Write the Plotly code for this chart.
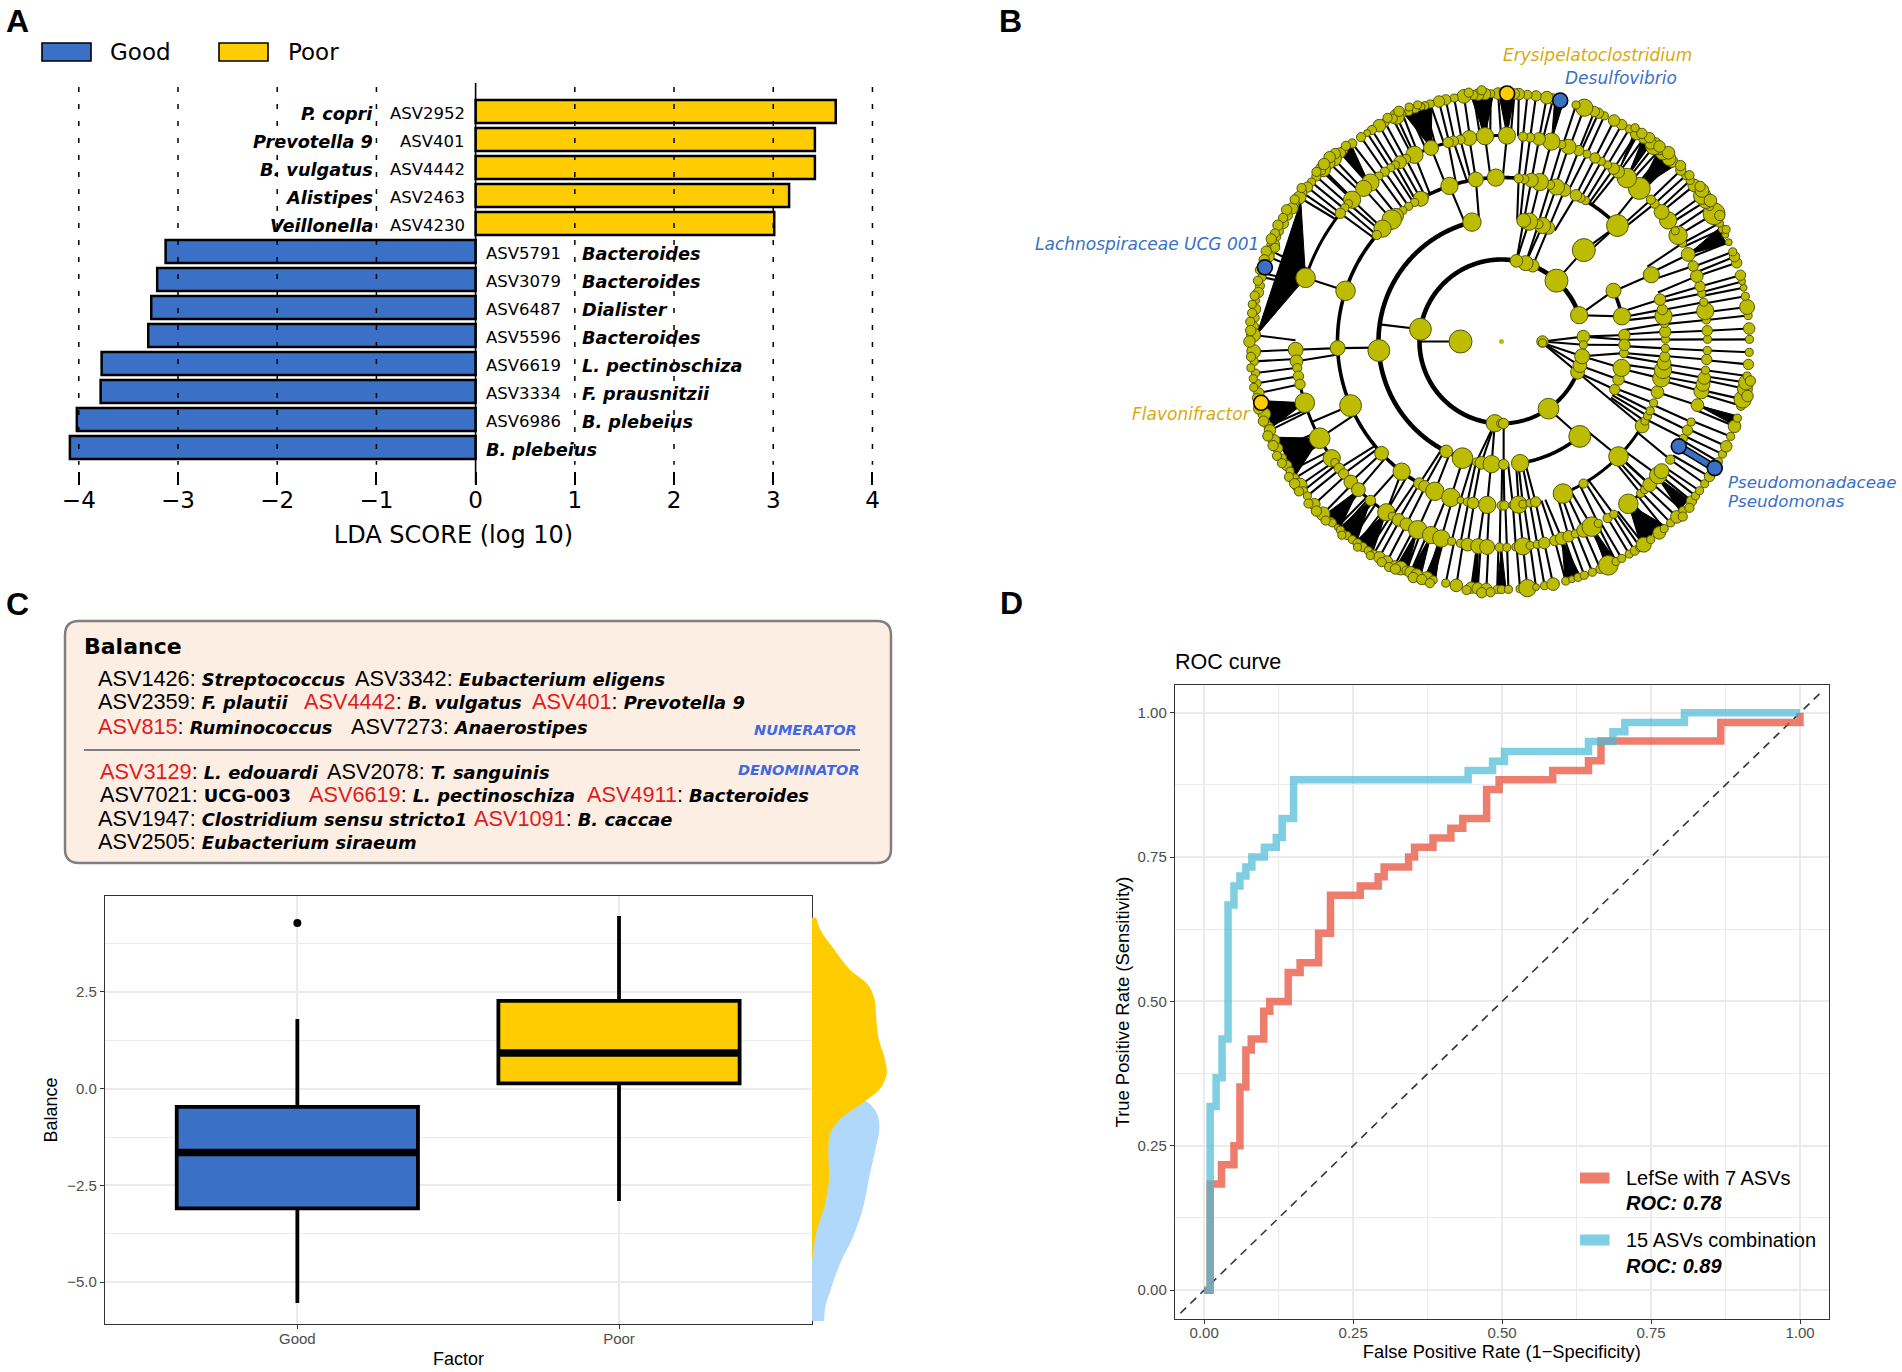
import numpy as np
import plotly.graph_objects as go

W, H = 1902, 1372
BLUE = "#3A70C6"
GOLD = "#FFCC00"
OLIVE = "#BCBC00"
OLIVE_EDGE = "#55550A"

# ---------- Panel A ----------
lda_asv = ["ASV2952", "ASV401", "ASV4442", "ASV2463", "ASV4230", "ASV5791", "ASV3079",
           "ASV6487", "ASV5596", "ASV6619", "ASV3334", "ASV6986", ""]
lda_taxa = ["P. copri", "Prevotella 9", "B. vulgatus", "Alistipes", "Veillonella", "Bacteroides",
            "Bacteroides", "Dialister", "Bacteroides", "L. pectinoschiza", "F. prausnitzii",
            "B. plebeius", "B. plebeius"]
lda_score = [3.63, 3.42, 3.42, 3.16, 3.01, -3.125, -3.21, -3.27, -3.30, -3.77, -3.78, -4.02, -4.09]

# ---------- Panel B : cladogram (theta in degrees, marker diameter) ----------
ring6 = [(0.5,7),(3,10),(6,7),(8,13),(10.5,7),(12.5,6),(14,6),(15.5,9),(18.5,9),(20,9),(21.2,7),(23.6,6),
 (25.5,6),(27,7),(28.5,7),(31,19),(33,7),(34.5,13),(36,15),(39,11),(40.5,7),(42,7),(43.7,9),(46.5,10),
 (47.5,12),(49.5,12),(50.5,8),(52,15),(53,10),(55,9),(57,11),(59,7),(61,9),(63,10),(65.5,7),(67,9),(68,9),
 (70.5,15),(72.5,7),(78,9),(79.5,11),(82,9),(84,8),(86,10),(87,9),
 (90.8,10),(92.5,7),(93.8,10),(95.4,10),(96.5,8),(98.7,12),(101,7),(103,9),(104.6,10),(106.7,7),(108,7),
 (108.8,6),(110.4,7),(112,7),(113.5,6),(115,13),(116,8),(118,7),(119.5,11),(121.5,8),(122.8,6),(124.5,8),
 (127,8),(129.5,7),(130.5,9),(132.5,13),(134,10),(136,13),(136.5,7),(138.3,8),(140,7),(141.5,9),(143.2,7),
 (144.5,11),(146,6),(147.5,10),(149.5,8),(151.6,9),(153.6,7),(155,7),(157,11),(158.5,9),(160,10),(164,8),
 (165,7),(167,8),(168.6,9),(170.5,5),(172.5,9),(174.5,8),(176.5,8),(178.5,12),
 (182.3,12),(184.6,7),(187.3,7),(189.7,7),(192,9),(197,11),(200,8),(201,10),(203.5,10),(205.5,9),(208,7),
 (210,9),(211.5,7),(213.5,8),(215.5,13),(217,7),(218.5,7),(221,10),(224,12),(226.5,7),(227,7),(228.5,5),
 (229.5,7),(231.5,7),(233,7),(234.5,8),(236,8),(237.5,7),(239,7),(240.5,10),(242.5,10),(244.5,8),(246,12),
 (247.5,8),(248.5,10),(250,10),(252.5,11),(254,7),(257,7),(259.5,11),(263,10),(264.5,10),(266.5,10),(269,7),
 (270,7),(271.6,7),(274.3,7),(276,15),(278,6),(280,7),(282,11),(285,7),(286.5,6),(288,7),(289.5,7),(291.5,7),
 (293.5,8),(295.5,17),(297.5,7),(299,7),(301,7),(302.5,8),(304,8),(305,13),(307,7),(309.5,11),(311,7),(313,7),
 (315,11),(317,7),(320,9),(321.5,7),(323,7),(325,7),(327,9),(331,7),(333,7),(335,10),(337.5,7),(340,11),
 (342,7),(345,8),(346.5,15),(349,13),(350.5,13),(352,7),(354.7,9),(357.5,7)]
# overlapping leaves in the crowded parts of the outer band: (theta, radius, diameter)
ring6_crowded = [(26.5,251,7),(30,252,9),(34,252,11),(37,251,12),(38,252,9),(41.5,251,8),(44.5,251,9),(48.5,252,11),
 (51,251,10),(54,252,9),(56,251,9),(58,252,7),(89.5,250,8),(94.5,252,8),
 (97.5,251,8),(109.5,251,7),(111.5,252,7),(114,252,9),(117,251,8),(128.5,250,8),(131.5,251,9),(133,252,10),(135,251,10),
 (137.5,251,8),(142.5,252,8),(145.5,251,8),(148.5,252,9),(150.5,251,8),(152.5,252,9),(154.5,251,8),(156,252,9),
 (157.5,245,8),(159,252,9),(161,251,9),(163.5,252,8),(166,251,8),(169.5,251,8),(171.5,252,7),(173.5,251,8),(175.5,252,8),
 (177.5,251,9),(180,252,10),(183.5,251,8),(186,252,7),(188.5,251,7),(190.5,252,7),(193,251,8),(195.5,252,9),(198.5,251,9),
 (202,252,9),(204.5,251,9),(207,252,8),(209,251,8),(212.5,252,8),(214.5,251,9),(216.5,252,8),(220,252,8),(222.5,251,9),
 (225.5,251,8),(230.5,251,7),(235,251,7),(238.5,251,7),(241.5,251,8),(243.5,252,8),(245,251,9),(249.5,252,9),(251.5,251,9),
 (253.5,252,8),(262,251,8),(265.5,252,9),(267.5,251,8),(316,252,8),(318.5,251,8),(347.5,252,10),(351,252,9)]
ring5 = [(0.6,7),(3,9),(6,7),(8.5,15),(11,7),(13.5,7),(15.5,9),(18.5,11),(21.5,9),(25,12),(28.5,7),(31,16),
 (32.5,7),(36,15),(39,13),(42,8),(43.5,8),(48,19),(52.5,17),(55.5,11),(57,10),(59,7),(61,7),(63,9),(65.5,7),
 (68,9),(71,13),(73,7),(76,15),(79.5,11),(82,8),(84,8),(88.5,15),
 (94.6,15),(99,13),(101.5,8),(103.5,9),(105,9),(110,13),(115,15),(117.6,8),(119.5,11),(121,7),(122.5,7),
 (124.5,8),(126.5,7),(129.5,15),(132,14),(136.5,15),(138,7),(139.5,7),(141.5,9),(162,17),
 (182.3,13),(185.5,11),(187.4,8),(189.7,9),(192,9),(197.3,17),(208,18),(214.5,15),(216,7),(218,9),(220,9),
 (223,12),(226,12),(230.5,9),(236,15),(238,7),(240,11),(242.5,11),(246,16),(250,15),(253,15),(256,7),(258.5,7),
 (260.5,11),(263.5,13),(266,13),(269.5,8),(271.5,7),(274,7),(276,15),(278,7),(280,7),(282,10),(285,9),(287,11),
 (289,10),(291,7),(293.5,12),(296,17),(298,7),(301,8),(303,7),(308,17),(312.5,7),(314,7),(316,12),(319.5,15),
 (321,13),(325,8),(332,7),(334.5,9),(337,7),(342,11),(346,13),(348,12),(349.8,11),(352,7),(355,9),(357.5,7)]
ring4 = [(0.8,7),(3.4,10),(6.3,7),(8.9,15),(11.2,9),(14.8,10),(24,14),(45,19),(59.2,7),(61.2,8),(63,10),
 (67.4,11),(70.4,14),(72.8,8),(76.5,15),(79.5,12),(82,8),(84,8),(92,15),(99,13),(108.5,15),(118,7),(119.5,13),
 (122,7),(124.5,7),(127,7),(130,13),(132,17),(136.5,15),(139.5,8),(162,17),(182.3,13),(203,19),(223,12),
 (232.5,15),(240,10),(242,10),(246,16),(252,16),(255.5,6),(258,7),(260,10),(265,15),(270,8),(271,8),(274,7),
 (276,15),(277.5,7),(280,7),(282,9),(292,17),(300,8),(315.5,17),(329,12),(331,7),(333,7),(335,7),(338,7),
 (342,11),(347,15),(350,15),(352.4,12),(354.7,9),(357.6,7)]
ring3 = [(0.8,7),(3,10),(11.8,15),(24.4,13),(48,20),(67.5,11),(70.5,14),(72.5,8),(77,15),(79.6,12),(103.9,16),
 (184.2,19),(243.3,11),(251.5,18),(258.2,7),(260.6,11),(265.4,15),(271,9),(278.7,15),(309.5,19),(337,9),
 (342,10),(347.6,15),(354.6,8),(358.4,10)]
ring2 = [(3.4,11),(18.7,15),(47.9,20),(67.6,11),(72.9,13),(79.5,11),(171.4,19),(265.3,15),(269.5,7),(271.5,9),
 (305,18),(338,12),(342.9,12),(349.6,13),(357.7,7)]
ring1 = [(0,10),(358,7),(180,20)]

# parent -> child pairs that do not follow the nearest-node reading: (inner r, theta, outer r, theta)
long_edges = [(41,180,82,180),(41,0,82,3.4),(41,0,82,357.7),(41,358,82,349.6),(41,358,82,342.9),(41,358,82,338),
 (82,3.4,123,3),(82,3.4,123,0.8),(82,357.7,123,358.4),(82,349.6,123,354.6),(82,349.6,123,347.6),(82,342.9,123,342),
 (82,338,123,337),(82,18.7,123,24.4),(82,18.7,123,11.8),(82,47.9,123,48),(82,67.6,123,67.5),(82,72.9,123,72.5),
 (82,72.9,123,70.5),(82,79.5,123,79.6),(82,79.5,123,77),(82,171.4,123,172),(82,265.3,123,265.4),(82,265.3,123,260.6),
 (82,265.3,123,258.2),(82,271.5,123,271),(82,305,123,309.5),(82,338,164,329),(123,48,164,45),
 (164,203,206,203),(164,232.5,206,236),(164,315.5,206,316)]
# thick sibling arcs: (r, theta start, theta end, width)
arcs = [(82,18.7,271.5,4.6),(82,271.5,338,4),(123,103.9,251.5,4.6),(123,278.7,309.5,3.6),(123,11.8,24.4,3.6),
 (164,84,132,3.6),(164,139.5,240,3.6),(164,292,329,3),(164,45,59.2,3.6),(206,89,94.6,3),(206,103.5,115,3),
 (206,141.5,162,3),(206,192,236,3),(206,308,312.5,3)]
# dense outer fans: (parent theta, first child, last child)
fans = [(162,145,178.5),(197.3,194,200.5),(208,203,213),(226,224.5,229),(230.5,229,234),(236,234,238.5),
 (246,245,247.5),(250,248.5,251),(253,252,254.5),(263.5,263,264.5),(270,269,271),(287,285,288.5),(296,295,297.5),
 (308,304.5,311.5),(319,316.5,319.8),(342,340.3,342.5),(25,23.5,27.5),(48,45.5,50.5),(52.5,53,55),(55.5,56.5,57.5),
 (88.5,87,90.5),(76,75.5,77.5),(94.6,92,97),(110,106.5,113),(130,127.5,130.5)]
marked_r = [248, 248, 248, 248, 248, 206]
marked_theta = [88.7, 76.3, 162.6, 194.3, 329.3, 329.4]
marked_colour = [GOLD, BLUE, BLUE, GOLD, BLUE, BLUE]

# ---------- Panel C ----------
box_names = ["Good", "Poor"]
box_q1 = [-3.09, 0.14]
box_median = [-1.65, 0.92]
box_q3 = [-0.47, 2.27]
box_low = [-5.54, -2.9]
box_high = [1.8, 4.46]
outlier_value = [4.28]
poor_density_y = [4.42,4.10,3.59,3.08,2.69,2.31,1.79,1.28,0.77,0.38,0,-0.38,-0.77,-1.15,-1.67,-2.31,-2.95,-3.72,-4.49]
poor_density = [.014,.028,.074,.124,.184,.206,.212,.22,.24,.246,.224,.164,.094,.06,.054,.056,.044,.014,0]
good_density_y = [1.28,0.51,0,-0.32,-0.64,-1.03,-1.54,-2.31,-3.08,-3.85,-4.49,-5.13,-5.64,-6.0]
good_density = [0,.02,.07,.178,.214,.222,.21,.188,.168,.134,.094,.064,.044,.04]
# (text x px, ASV, highlighted, taxon)
balance_rows = [
 (678, [(96,"ASV1426",0,"Streptococcus"),(353,"ASV3342",0,"Eubacterium eligens")]),
 (702, [(96,"ASV2359",0,"F. plautii"),(302,"ASV4442",1,"B. vulgatus"),(530,"ASV401",1,"Prevotella 9")]),
 (726, [(96,"ASV815",1,"Ruminococcus"),(348.5,"ASV7273",0,"Anaerostipes")]),
 (771, [(97.5,"ASV3129",1,"L. edouardi"),(325,"ASV2078",0,"T. sanguinis")]),
 (794, [(97.5,"ASV7021",0,"UCG-003"),(307,"ASV6619",1,"L. pectinoschiza"),(584.5,"ASV4911",1,"Bacteroides")]),
 (818, [(96,"ASV1947",0,"Clostridium sensu stricto1"),(472,"ASV1091",1,"B. caccae")]),
 (842, [(96,"ASV2505",0,"Eubacterium siraeum")]),
]

# ---------- Panel D ----------
lefse_fpr = [0,.01,.029,.05,.06,.07,.079,.10,.11,.141,.161,.192,.212,.262,.292,.302,.343,.353,.384,.414,.434,.474,.495,.585,.645,.666,.867,1.0]
lefse_tpr = [0,.184,.217,.25,.352,.416,.435,.483,.50,.55,.567,.618,.684,.70,.716,.733,.75,.767,.783,.80,.817,.867,.884,.90,.917,.951,.983,1.0]
combo_fpr = [0,.01,.02,.03,.04,.05,.06,.07,.08,.101,.121,.131,.15,.443,.484,.504,.645,.686,.706,.806,1.0]
combo_tpr = [0,.318,.368,.435,.667,.70,.717,.733,.75,.767,.784,.817,.884,.90,.916,.933,.95,.967,.983,1.0,1.0]

# ---------- helpers ----------
def fx(p): return p / W
def fy(p): return 1 - p / H
def dom_x(a, b): return [fx(a), fx(b)]
def dom_y(top, bottom): return [fy(bottom), fy(top)]

annotations, shapes = [], []
def note(x, y, text, size, family="DejaVu Sans", color="black", anchor="left", angle=0):
    annotations.append(dict(x=fx(x), y=fy(y), xref="paper", yref="paper", text=text, showarrow=False,
                            xanchor=anchor, yanchor="middle", textangle=angle,
                            font=dict(size=size, family=family, color=color)))

fig = go.Figure()
LIB = "Liberation Sans"
DJ = "DejaVu Sans"

for x, y, t in [(17, 21, "A"), (1010, 21, "B"), (17, 604, "C"), (1011, 603, "D")]:
    note(x, y, f"<b>{t}</b>", 32, LIB, anchor="center")

# ----- A -----
pos = list(range(len(lda_score)))
fig.add_trace(go.Bar(x=lda_score, y=pos, orientation="h", width=0.82, xaxis="x", yaxis="y",
                     marker=dict(color=[GOLD if v > 0 else BLUE for v in lda_score],
                                 line=dict(color="black", width=2.5))))
fig.update_layout(
    xaxis=dict(domain=dom_x(4.8, 902.2), range=[-4.746, 4.3], anchor="y", tickvals=[-4,-3,-2,-1,0,1,2,3,4],
               showgrid=False, zeroline=False, showline=False, ticks="outside", ticklen=13, tickwidth=1.5,
               tickcolor="black", tickfont=dict(size=23, family=DJ, color="black"), ticklabelstandoff=-5,
               title=dict(text="LDA SCORE (log 10)", font=dict(size=24, family=DJ, color="black"), standoff=14)),
    yaxis=dict(domain=dom_y(83, 471), range=[12.84, -1.02], anchor="x", visible=False),
)
for tick in [-4, -3, -2, -1, 1, 2, 3, 4]:
    shapes.append(dict(type="line", xref="x", yref="y", x0=tick, x1=tick, y0=-0.88, y1=12.62, layer="above",
                       line=dict(color="black", width=1.5, dash="5px,12px")))
shapes.append(dict(type="line", xref="paper", yref="paper", x0=fx(475.6), x1=fx(475.6), y0=fy(83), y1=fy(484),
                   line=dict(color="black", width=1.6), layer="above"))
for i, (asv, tax, v) in enumerate(zip(lda_asv, lda_taxa, lda_score)):
    cfg = dict(yref="y", xref="x", showarrow=False, yanchor="middle")
    if v > 0:
        annotations.append(dict(cfg, y=i + 0.07, x=-0.085, xanchor="right", text=asv, font=dict(size=16.5, family=DJ, color="black")))
        annotations.append(dict(cfg, y=i + 0.08, x=-1.01, xanchor="right", text=f"<b><i>{tax}</i></b>", font=dict(size=17.7, family=DJ, color="black")))
    else:
        if asv:
            annotations.append(dict(cfg, y=i + 0.08, x=0.088, xanchor="left", text=asv, font=dict(size=16.5, family=DJ, color="black")))
        annotations.append(dict(cfg, y=i + 0.1, x=1.056 if asv else 0.088, xanchor="left", text=f"<b><i>{tax}</i></b>", font=dict(size=17.7, family=DJ, color="black")))
for x0, x1, c, tx, t in [(42, 91, BLUE, 108, "Good"), (219, 268, GOLD, 286, "Poor")]:
    shapes.append(dict(type="rect", xref="paper", yref="paper", x0=fx(x0), x1=fx(x1), y0=fy(61), y1=fy(43),
                       fillcolor=c, line=dict(color="black", width=1.6)))
    note(tx, 52, t, 23, DJ)

# ----- B -----
RADIUS = 260
polar_kw = dict(subplot="polar", showlegend=False, hoverinfo="skip")
def nearest_links(children, parents, r0, r1, tol):
    th, rr = [], []
    ptheta = np.array([p[0] for p in parents])
    for t, _ in children:
        d = (ptheta - t + 180) % 360 - 180
        j = int(np.argmin(np.abs(d)))
        if abs(d[j]) <= tol:
            th += [t + 0.3 * d[j], t, None]
            rr += [r0, r1, None]
    return th, rr

for r, a, b, w in arcs:
    t = np.arange(a, b + 0.5, 0.5)
    fig.add_trace(go.Scatterpolar(r=[r] * len(t), theta=t, mode="lines", line=dict(color="black", width=w), **polar_kw))
fth, frr = [], []
for p, a, b in fans:
    fth += [p, a, b, p, None]
    frr += [206, 245, 245, 206, None]
fig.add_trace(go.Scatterpolar(r=frr, theta=fth, mode="lines", fill="toself", fillcolor="black",
                              line=dict(color="black", width=1), **polar_kw))
eth, err = [], []
for r0, t0, r1, t1 in long_edges:
    eth += [t0, t1, None]
    err += [r0, r1, None]
for ch, pa, r0, r1, tol in [(ring6, ring5, 206, 248, 4), (ring5, ring4, 164, 206, 5), (ring4, ring3, 123, 164, 6)]:
    a, b = nearest_links(ch, pa, r0, r1, tol)
    eth += a
    err += b
fig.add_trace(go.Scatterpolar(r=err, theta=eth, mode="lines", line=dict(color="black", width=2.1), **polar_kw))
for w, c in [(8.5, "black"), (5.5, BLUE)]:
    fig.add_trace(go.Scatterpolar(r=marked_r[-2:], theta=marked_theta[-2:], mode="lines", line=dict(color=c, width=w), **polar_kw))
fig.add_trace(go.Scatterpolar(r=[0], theta=[0], mode="markers", marker=dict(size=5, color=OLIVE), **polar_kw))
node_scale = 1.15
for rad, nodes in [(41, ring1), (82, ring2), (123, ring3), (164, ring4), (206, ring5), (248, ring6)]:
    fig.add_trace(go.Scatterpolar(r=[rad] * len(nodes), theta=[n[0] for n in nodes], mode="markers",
                                  marker=dict(size=[n[1] * node_scale for n in nodes], color=OLIVE, opacity=1,
                                              line=dict(color=OLIVE_EDGE, width=1)), **polar_kw))
fig.add_trace(go.Scatterpolar(r=[n[1] for n in ring6_crowded], theta=[n[0] for n in ring6_crowded], mode="markers",
                              marker=dict(size=[n[2] * node_scale for n in ring6_crowded], color=OLIVE, opacity=1,
                                          line=dict(color=OLIVE_EDGE, width=1)), **polar_kw))
fig.add_trace(go.Scatterpolar(r=marked_r, theta=marked_theta, mode="markers",
                              marker=dict(size=15, color=marked_colour, opacity=1, line=dict(color="black", width=1.6)), **polar_kw))
CX, CY = 1501.5, 341.5
fig.update_layout(polar=dict(domain=dict(x=dom_x(CX - RADIUS, CX + RADIUS), y=dom_y(CY - RADIUS, CY + RADIUS)),
                             bgcolor="rgba(0,0,0,0)",
                             radialaxis=dict(range=[0, RADIUS], visible=False),
                             angularaxis=dict(visible=False)))
GOLDTXT = "#D9A90F"
note(1501, 55, "<i>Erysipelatoclostridium</i>", 17, DJ, GOLDTXT)
note(1563, 78, "<i>Desulfovibrio</i>", 17, DJ, BLUE)
note(1033, 244, "<i>Lachnospiraceae UCG 001</i>", 17, DJ, BLUE)
note(1130, 414, "<i>Flavonifractor</i>", 17, DJ, GOLDTXT)
note(1726, 482, "<i>Pseudomonadaceae</i>", 16.7, DJ, BLUE)
note(1726, 501, "<i>Pseudomonas</i>", 16.7, DJ, BLUE)

# ----- C -----
x0, x1, y0, y1, rd = fx(65), fx(891), fy(621), fy(863), 14
rx, ry = rd / W, rd / H
shapes.append(dict(type="path", xref="paper", yref="paper", fillcolor="#FDEEE3", line=dict(color="#7F7F7F", width=2.5), layer="below",
    path=f"M {x0+rx},{y0} L {x1-rx},{y0} Q {x1},{y0} {x1},{y0-ry} L {x1},{y1+ry} Q {x1},{y1} {x1-rx},{y1} "
         f"L {x0+rx},{y1} Q {x0},{y1} {x0},{y1+ry} L {x0},{y0-ry} Q {x0},{y0} {x0+rx},{y0} Z"))
shapes.append(dict(type="line", xref="paper", yref="paper", x0=fx(84), x1=fx(860), y0=fy(750), y1=fy(750),
                   line=dict(color="#7F7F7F", width=2)))
note(82, 646, "<b>Balance</b>", 22, DJ)
for y, row in balance_rows:
    for x, asv, hot, tax in row:
        col = "#DD1C1C" if hot else "black"
        inner = "<b>UCG-003</b>" if tax == "UCG-003" else f"<b><i>{tax}</i></b>"
        note(x, y, f'<span style="font-family:Liberation Sans;font-size:21.7px;fill:{col}">{asv}</span>'
                   f'<span style="font-family:Liberation Sans;font-size:21.7px">: </span>{inner}', 17.9, DJ)
note(859, 730, "<b><i>NUMERATOR</i></b>", 14.5, DJ, "#4169E1", "right")
note(862, 770, "<b><i>DENOMINATOR</i></b>", 14.5, DJ, "#4169E1", "right")

for i, c in enumerate([BLUE, GOLD]):
    fig.add_trace(go.Box(x=[i], q1=[box_q1[i]], median=[box_median[i]], q3=[box_q3[i]], lowerfence=[box_low[i]],
                         upperfence=[box_high[i]], width=0.75, whiskerwidth=0, boxpoints=False, fillcolor=c,
                         line=dict(color="black", width=3.8), xaxis="x2", yaxis="y2", hoverinfo="skip"))
    fig.add_trace(go.Scatter(x=[i - 0.375, i + 0.375], y=[box_median[i]] * 2, mode="lines", xaxis="x2", yaxis="y2",
                             line=dict(color="black", width=7.5), hoverinfo="skip"))
fig.add_trace(go.Scatter(x=[0], y=outlier_value, mode="markers", marker=dict(color="black", size=8), xaxis="x2", yaxis="y2"))
GRID = "#EBEBEB"
tick_c = dict(ticks="outside", ticklen=4, tickwidth=1, tickcolor="#333333")
frame = dict(showline=True, mirror=True, linecolor="#333333", linewidth=1.4, zeroline=False, gridcolor=GRID, gridwidth=1.6)
fig.update_layout(
    xaxis2=dict(domain=dom_x(105, 812), range=[-0.598, 1.6], anchor="y2", tickvals=[0, 1], ticktext=box_names,
                tickfont=dict(size=15, family=LIB, color="#4D4D4D"), ticklabelstandoff=-3, **frame, **tick_c,
                title=dict(text="Factor", font=dict(size=18, family=LIB, color="black"), standoff=6)),
    yaxis2=dict(domain=dom_y(896, 1324), range=[-6.08, 4.98], anchor="x2", tickvals=[-5, -2.5, 0, 2.5],
                ticktext=["\u22125.0", "\u22122.5", "0.0", "2.5"], tickfont=dict(size=15, family=LIB, color="#4D4D4D"),
                minor=dict(dtick=1.25, tick0=0, showgrid=True, gridcolor=GRID, gridwidth=1, ticks=""),
                **frame, **tick_c,
                title=dict(text="Balance", font=dict(size=18, family=LIB, color="black"), standoff=4)),
    xaxis3=dict(domain=dom_x(812, 893), range=[0, 0.267], anchor="y3", visible=False),
    yaxis3=dict(domain=dom_y(896, 1324), range=[-6.08, 4.98], anchor="x3", visible=False),
)
fig.add_trace(go.Scatter(x=good_density, y=good_density_y, mode="lines", fill="tozerox", fillcolor="#AFD8FA",
                         line=dict(width=0, color="#AFD8FA", shape="spline", smoothing=1), xaxis="x3", yaxis="y3", hoverinfo="skip"))
fig.add_trace(go.Scatter(x=poor_density, y=poor_density_y, mode="lines", fill="tozerox", fillcolor=GOLD,
                         line=dict(width=0, color=GOLD, shape="spline", smoothing=1), xaxis="x3", yaxis="y3", hoverinfo="skip"))

# ----- D -----
RED_A = "rgba(230,75,53,0.72)"
CYAN_A = "rgba(77,187,213,0.72)"
fig.add_trace(go.Scatter(x=[-0.04, 1.04], y=[-0.04, 1.04], mode="lines", xaxis="x4", yaxis="y4",
                         line=dict(color="#333333", width=1.6, dash="8px,6px"), hoverinfo="skip"))
fig.add_trace(go.Scatter(x=lefse_fpr, y=lefse_tpr, mode="lines", line=dict(color=RED_A, width=7.5, shape="hv"),
                         name="LefSe with 7 ASVs", xaxis="x4", yaxis="y4", hoverinfo="skip"))
fig.add_trace(go.Scatter(x=combo_fpr, y=combo_tpr, mode="lines", line=dict(color=CYAN_A, width=7.5, shape="hv"),
                         name="15 ASVs combination", xaxis="x4", yaxis="y4", hoverinfo="skip"))
roc_ticks = [0, .25, .5, .75, 1]
roc_text = ["0.00", "0.25", "0.50", "0.75", "1.00"]
roc_minor = dict(dtick=.125, tick0=0, showgrid=True, gridcolor=GRID, gridwidth=1, ticks="")
fig.update_layout(
    xaxis4=dict(domain=dom_x(1175, 1828.6), range=[-0.049, 1.048], anchor="y4", tickvals=roc_ticks, ticktext=roc_text,
                tickfont=dict(size=15, family=LIB, color="#4D4D4D"), ticklabelstandoff=-4, minor=roc_minor, **frame, **tick_c,
                title=dict(text="False Positive Rate (1\u2212Specificity)", font=dict(size=18.3, family=LIB, color="black"), standoff=2)),
    yaxis4=dict(domain=dom_y(685, 1319), range=[-0.05, 1.048], anchor="x4", tickvals=roc_ticks, ticktext=roc_text,
                tickfont=dict(size=15, family=LIB, color="#4D4D4D"), minor=roc_minor, **frame, **tick_c,
                title=dict(text="True Positive Rate (Sensitivity)", font=dict(size=18.4, family=LIB, color="black"), standoff=3)),
)
note(1173, 662, "ROC curve", 21.5, LIB)
for yb, c, t, roc, yr in [(1178, RED_A, "LefSe with 7 ASVs", "ROC: 0.78", 1202.6), (1240, CYAN_A, "15 ASVs combination", "ROC: 0.89", 1266)]:
    shapes.append(dict(type="rect", xref="paper", yref="paper", x0=fx(1580), x1=fx(1609.5), y0=fy(yb + 5.5), y1=fy(yb - 5.5),
                       fillcolor=c, line=dict(width=0)))
    note(1624, yb, t, 20, LIB)
    note(1624, yr, f"<b><i>{roc}</i></b>", 20, LIB)

fig.update_layout(width=W, height=H, autosize=False, margin=dict(l=0, r=0, t=0, b=0), showlegend=False,
                  paper_bgcolor="white", plot_bgcolor="rgba(0,0,0,0)", annotations=annotations, shapes=shapes)
fig.write_html("out.html", post_script="document.body.style.margin='0';", config=dict(displayModeBar=False))
